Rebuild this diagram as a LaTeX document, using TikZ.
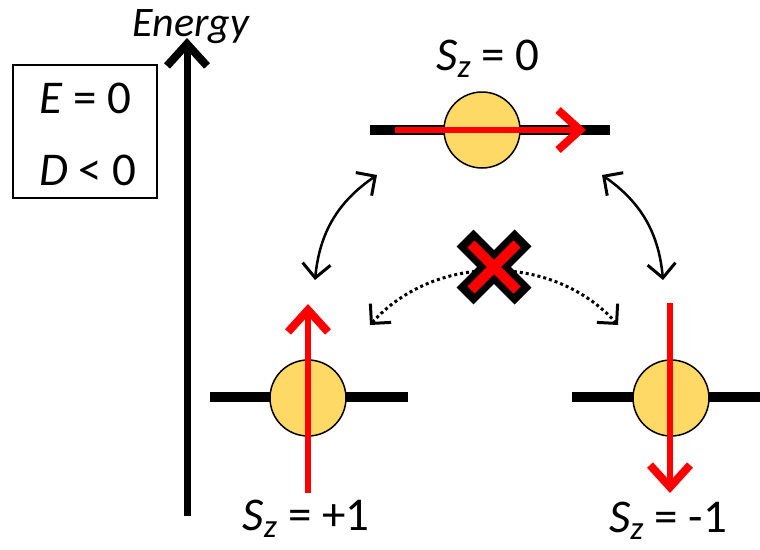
\documentclass[tikz,border=0pt]{standalone}
\usepackage{fontspec}
\setmainfont{Carlito}
\usetikzlibrary{arrows.meta}
\definecolor{spinfill}{RGB}{255,217,102}

\begin{document}
\begin{tikzpicture}[x=1pt,y=-1pt]
	\tikzstyle{every node}+=[inner sep=0pt]
	\tikzstyle{level}=[black, line width=10pt]
	\tikzstyle{spin}=[circle, draw=black, line width=1.5pt, fill=spinfill, minimum size=76pt]
	\tikzstyle{moment}=[red, line width=6pt, -{Straight Barb[length=22pt,width=40pt,line width=8pt]}]
	\tikzstyle{flip}=[black, line width=2.5pt, {Straight Barb[length=14pt,width=28pt,line width=3pt]}-{Straight Barb[length=14pt,width=28pt,line width=3pt]}]
	\tikzstyle{forbid}=[black, line width=3pt, dash pattern=on 3pt off 3pt, {Straight Barb[length=14pt,width=28pt,line width=3pt]}-{Straight Barb[length=14pt,width=28pt,line width=3pt]}]
	\tikzstyle{big}=[font=\fontsize{47}{72}\selectfont]
	\useasboundingbox (0,0) rectangle (760,549);
	% energy axis
	\coordinate (ebot) at (187,516);
	\coordinate (etop) at (187,38);
	\draw[black, line width=7pt, -{Straight Barb[length=22pt,width=40pt,line width=8pt]}] (ebot) -- (etop);
	\node[anchor=base, font=\fontsize{42}{42}\selectfont\itshape] (energy) at (191,36) {Energy};
	% parameters
	\node[draw, line width=1.5pt, minimum width=144pt, minimum height=133pt] (param) at (85,131.5) {};
	\node[big, anchor=base] (eterm) at (85,113) {\textit{E} = 0};
	\node[big, anchor=base] (dterm) at (88,185) {\textit{D} < 0};
	% levels
	\draw[level] (370,130) -- (610,130);
	\draw[level] (210,397) -- (408,397);
	\draw[level] (572,397) -- (760,397);
	\node[spin] (zero) at (482,130) {};
	\node[spin] (plus) at (308,398) {};
	\node[spin] (minus) at (671,398) {};
	\coordinate (zs) at (395,130);
	\coordinate (ze) at (586,130);
	\coordinate (ps) at (308,493);
	\coordinate (pe) at (308,304);
	\coordinate (ms) at (670,303);
	\coordinate (me) at (670,493);
	\draw[moment] (zs) -- (ze);
	\draw[moment] (ps) -- (pe);
	\draw[moment] (ms) -- (me);
	\node[big, anchor=base] (lzero) at (488,70) {\textit{S}\textsubscript{\textit{z}} = 0};
	\node[big, anchor=base] (lplus) at (306,530) {\textit{S}\textsubscript{\textit{z}} = +1};
	\node[big, anchor=base] (lminus) at (668,532) {\textit{S}\textsubscript{\textit{z}} = -1};
	% transitions
	\coordinate (a1) at (377,175);
	\coordinate (a2) at (315,280);
	\coordinate (b1) at (602,175);
	\coordinate (b2) at (663,280);
	\coordinate (c1) at (370,325);
	\coordinate (c2) at (618,325);
	\draw[flip] (a1) to[bend right=25] (a2);
	\draw[flip] (b1) to[bend left=25] (b2);
	\draw[forbid] (c1) to[bend left=48] (c2);
	% forbidden mark
	\coordinate (cross) at (494,267);
	\draw[black, line width=24pt] (cross) ++(-29,-29) -- ++(58,58);
	\draw[black, line width=24pt] (cross) ++(-29,29) -- ++(58,-58);
	\draw[red, line width=10pt] (cross) ++(-23,-23) -- ++(46,46);
	\draw[red, line width=10pt] (cross) ++(-23,23) -- ++(46,-46);
\end{tikzpicture}
\end{document}
